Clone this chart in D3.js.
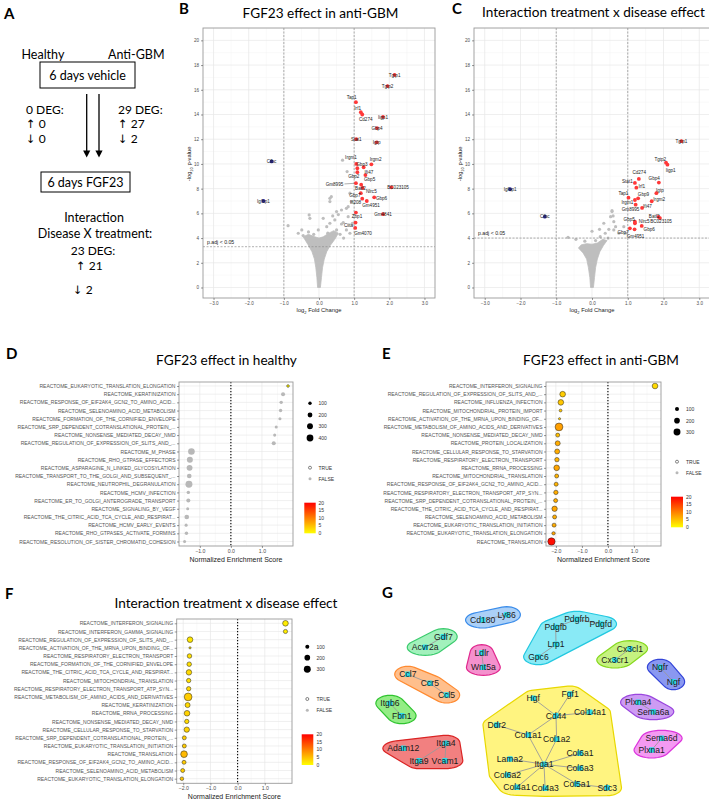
<!DOCTYPE html>
<html><head><meta charset="utf-8">
<script src="https://cdn.jsdelivr.net/npm/d3@7"></script>
<style>body{margin:0;background:#fff}svg{display:block}</style>
</head><body>
<script>
// ---------------- DATA ----------------
const volcanoXTicks = [-3,-2,-1,0,1,2,3];
const volcanoYTicks = [0,2,4,6,8,10,12,14,16,18,20];

// Panel B: [gene, log2FC, -log10p, labelX, labelY]
const bUp = [
 ["Tgtp1",2.15,17.2,2.15,17.2],["Tgtp2",1.95,16.3,1.95,16.3],["Tap1",1.05,15.0,0.93,15.37],
 ["Irf1",1.19,14.18,1.10,14.5],["Cd274",1.23,14.0,1.33,13.6],["Iigp1",1.82,13.8,1.82,13.8],
 ["Gbp4",1.65,12.9,1.65,12.9],["Stat1",1.06,12.0,1.06,12.0],["Igtp",1.64,11.75,1.64,11.75],
 ["Irgm1",1.06,10.0,0.91,10.5],["Irgm2",1.49,9.97,1.61,10.35],["Gbp3",1.27,9.73,1.22,9.97],
 ["Ifi47",1.09,9.65,1.42,9.35],["Gbp2",1.09,9.33,0.99,8.97],["Gbp5",1.32,9.1,1.44,8.76],
 ["Gm8995",1.05,8.44,0.44,8.38],["Batf2",1.2,8.32,1.18,8.03],["Nlrc5",1.24,8.06,1.49,7.81],
 ["BC023105",2.06,8.11,2.25,8.08],["Gbp7",1.19,7.63,1.02,7.49],["Gbp6",1.57,7.3,1.78,7.19],
 ["Ifi208",1.23,7.19,1.04,6.87],["Gm4951",1.36,7.0,1.48,6.62],["Gm4841",1.82,5.93,1.82,5.93],
 ["Zbp1",1.05,6.06,1.08,5.73],["Ciita",1.04,5.25,0.84,5.03],["Gm4070",1.03,4.82,1.25,4.36]
];
const bDown = [["Cfbc",-1.35,10.2,-1.35,10.2],["Igfbp1",-1.58,7.0,-1.58,7.0]];
const bGray = [[-0.88,5.0],[0.67,10.3],[0.8,9.38],[0.31,7.22],[0.35,7.35],[0.31,6.95],[0.5,6.14],
 [0.39,5.79],[-0.28,5.87],[-0.26,5.6],[0.45,5.47],[0.64,5.14],[0.31,5.2],[0.78,4.66],[0.88,4.39],
 [-0.02,4.66],[-0.49,4.66],[-0.59,4.39],[0.12,5.6],[0.83,6.54],[0.64,6.27],[0.88,7.63],[0.92,6.95],
 [0.78,6.41],[0.83,5.73],[0.69,5.25],[0.22,4.92],[0.5,4.66],[-0.45,4.2],[0.6,4.3],[0.7,4.0],
 [0.4,4.2],[-0.3,4.5],[0.55,5.9],[0.95,5.2],[0.25,4.4],[-0.15,4.3],[0.35,3.9]];
const bCloud = [[-0.04,0],[0.04,0],[0.07,0.8],[0.1,1.6],[0.15,2.3],[0.22,2.9],[0.32,3.4],[0.45,3.9],
 [0.55,4.4],[0.42,4.6],[0.28,4.4],[0.12,4.1],[0,4.0],[-0.12,4.1],[-0.3,4.3],[-0.45,4.1],[-0.32,3.5],
 [-0.2,2.9],[-0.13,2.3],[-0.09,1.6],[-0.06,0.8]];
const bThreshold = 3.3;

// Panel C
const cUp = [
 ["Tgtp1",2.50,11.84,2.50,11.84],["Tgtp2",2.07,10.1,1.91,10.38],["Iigp1",2.11,9.94,2.2,9.51],
 ["Cd274",1.31,8.79,1.32,9.33],["Stat1",1.2,8.46,0.99,8.62],["Irf1",1.24,8.08,1.39,8.22],
 ["Gbp4",1.87,8.49,1.74,8.79],["Igtp",1.8,7.63,1.9,7.89],["Tap1",1.02,7.27,0.88,7.6],
 ["Gbp9",1.29,7.22,1.44,7.57],["Irgm1",1.2,7.08,0.99,6.9],["Irgm2",1.67,6.98,1.88,7.14],
 ["Gm8995",1.22,6.7,1.08,6.33],["Ifi47",1.4,6.44,1.55,6.54],["Batf2",1.86,5.72,1.74,5.79],
 ["BC023105",1.9,5.62,1.93,5.33],["Gbp5",1.2,5.33,1.04,5.55],["Nlrc5",1.2,5.2,1.46,5.33],
 ["Gbp6",1.39,4.98,1.6,4.71],["Gbp7",1.06,4.79,0.87,4.44],["Gm4951",1.19,4.71,1.22,4.11]
];
const cDown = [["Igfbp1",-2.29,7.95,-2.29,7.95],["Cfbc",-1.32,5.73,-1.32,5.73]];
const cGray = [[-0.67,4.06],[0.0,4.55],[0.56,6.14],[0.59,5.79],[0.61,5.33],[0.47,4.71],[0.37,4.39],
 [0.23,4.11],[0.66,4.92],[0.56,6.22],[0.52,5.73],[0.33,5.2],[0.21,4.71],[0.89,4.92],[0.61,4.66],
 [0.75,4.39],[0.94,4.39],[-0.45,3.9],[0.45,4.0],[0.1,3.8],[-0.2,3.75]];
const cCloud = [[-0.04,0],[0.04,0],[0.07,0.8],[0.1,1.6],[0.15,2.3],[0.22,2.9],[0.32,3.4],[0.42,3.8],
 [0.3,3.9],[0.15,3.6],[0,3.5],[-0.15,3.55],[-0.3,3.45],[-0.38,3.2],[-0.25,2.8],[-0.15,2.3],
 [-0.1,1.6],[-0.06,0.8]];
const cThreshold = 4.0;

// Panel D
const dPaths = ["REACTOME_EUKARYOTIC_TRANSLATION_ELONGATION","REACTOME_KERATINIZATION",
 "REACTOME_RESPONSE_OF_EIF2AK4_GCN2_TO_AMINO_ACID...","REACTOME_SELENOAMINO_ACID_METABOLISM",
 "REACTOME_FORMATION_OF_THE_CORNIFIED_ENVELOPE","REACTOME_SRP_DEPENDENT_COTRANSLATIONAL_PROTEIN_...",
 "REACTOME_NONSENSE_MEDIATED_DECAY_NMD","REACTOME_REGULATION_OF_EXPRESSION_OF_SLITS_AND_...",
 "REACTOME_M_PHASE","REACTOME_RHO_GTPASE_EFFECTORS","REACTOME_ASPARAGINE_N_LINKED_GLYCOSYLATION",
 "REACTOME_TRANSPORT_TO_THE_GOLGI_AND_SUBSEQUENT_...","REACTOME_NEUTROPHIL_DEGRANULATION",
 "REACTOME_HCMV_INFECTION","REACTOME_ER_TO_GOLGI_ANTEROGRADE_TRANSPORT","REACTOME_SIGNALING_BY_VEGF",
 "REACTOME_THE_CITRIC_ACID_TCA_CYCLE_AND_RESPIRAT...","REACTOME_HCMV_EARLY_EVENTS",
 "REACTOME_RHO_GTPASES_ACTIVATE_FORMINS","REACTOME_RESOLUTION_OF_SISTER_CHROMATID_COHESION"];
const dNES = [1.84,1.68,1.62,1.6,1.58,1.46,1.41,1.38,-1.27,-1.32,-1.33,-1.34,-1.35,-1.37,-1.37,-1.39,-1.42,-1.44,-1.43,-1.49];
const dSize = [60,140,100,100,80,80,80,140,380,310,300,185,420,100,140,80,185,80,100,80];
const dLogP = [1,0,0,0,0,0,0,0,0,0,0,0,0,0,0,0,0,0,0,0];
const dSig = [true,false,false,false,false,false,false,false,false,false,false,false,false,false,false,false,false,false,false,false];

// Panel E
const ePaths = ["REACTOME_INTERFERON_SIGNALING","REACTOME_REGULATION_OF_EXPRESSION_OF_SLITS_AND_...",
 "REACTOME_INFLUENZA_INFECTION","REACTOME_MITOCHONDRIAL_PROTEIN_IMPORT",
 "REACTOME_ACTIVATION_OF_THE_MRNA_UPON_BINDING_OF...","REACTOME_METABOLISM_OF_AMINO_ACIDS_AND_DERIVATIVES",
 "REACTOME_NONSENSE_MEDIATED_DECAY_NMD","REACTOME_PROTEIN_LOCALIZATION","REACTOME_CELLULAR_RESPONSE_TO_STARVATION",
 "REACTOME_RESPIRATORY_ELECTRON_TRANSPORT","REACTOME_RRNA_PROCESSING","REACTOME_MITOCHONDRIAL_TRANSLATION",
 "REACTOME_RESPONSE_OF_EIF2AK4_GCN2_TO_AMINO_ACID...","REACTOME_RESPIRATORY_ELECTRON_TRANSPORT_ATP_SYN...",
 "REACTOME_SRP_DEPENDENT_COTRANSLATIONAL_PROTEIN_...","REACTOME_THE_CITRIC_ACID_TCA_CYCLE_AND_RESPIRAT...",
 "REACTOME_SELENOAMINO_ACID_METABOLISM","REACTOME_EUKARYOTIC_TRANSLATION_INITIATION",
 "REACTOME_EUKARYOTIC_TRANSLATION_ELONGATION","REACTOME_TRANSLATION"];
const eNES = [1.81,-1.74,-1.81,-1.82,-1.86,-1.88,-1.93,-1.93,-1.95,-1.96,-1.97,-1.97,-1.99,-2.0,-2.01,-2.05,-2.05,-2.07,-2.09,-2.17];
const eSize = [200,200,200,50,30,380,100,156,156,120,200,100,100,120,100,180,100,100,70,340];
const eLogP = [3,4,4.5,4.5,4,7.5,5,6.5,6.5,6,7,6,6,6.5,6.5,7,6.5,6.5,7,19];
const eSig = ePaths.map(() => true);

// Panel F
const fPaths = ["REACTOME_INTERFERON_SIGNALING","REACTOME_INTERFERON_GAMMA_SIGNALING",
 "REACTOME_REGULATION_OF_EXPRESSION_OF_SLITS_AND_...","REACTOME_ACTIVATION_OF_THE_MRNA_UPON_BINDING_OF...",
 "REACTOME_RESPIRATORY_ELECTRON_TRANSPORT","REACTOME_FORMATION_OF_THE_CORNIFIED_ENVELOPE",
 "REACTOME_THE_CITRIC_ACID_TCA_CYCLE_AND_RESPIRAT...","REACTOME_MITOCHONDRIAL_TRANSLATION",
 "REACTOME_RESPIRATORY_ELECTRON_TRANSPORT_ATP_SYN...","REACTOME_METABOLISM_OF_AMINO_ACIDS_AND_DERIVATIVES",
 "REACTOME_KERATINIZATION","REACTOME_RRNA_PROCESSING","REACTOME_NONSENSE_MEDIATED_DECAY_NMD",
 "REACTOME_CELLULAR_RESPONSE_TO_STARVATION","REACTOME_SRP_DEPENDENT_COTRANSLATIONAL_PROTEIN_...",
 "REACTOME_EUKARYOTIC_TRANSLATION_INITIATION","REACTOME_TRANSLATION",
 "REACTOME_RESPONSE_OF_EIF2AK4_GCN2_TO_AMINO_ACID...","REACTOME_SELENOAMINO_ACID_METABOLISM",
 "REACTOME_EUKARYOTIC_TRANSLATION_ELONGATION"];
const fNES = [1.76,1.76,-1.75,-1.75,-1.77,-1.78,-1.79,-1.8,-1.8,-1.82,-1.84,-1.86,-1.87,-1.87,-1.96,-1.96,-1.97,-1.97,-2.02,-2.05];
const fSize = [200,110,200,30,130,130,190,120,120,380,160,200,120,180,100,100,280,100,100,80];
const fLogP = [1.5,1.5,2,2,2.5,2.5,3,2.5,3,4,3,3.5,3,3.5,4,4,5.5,4,4,4.5];
const fSig = fPaths.map(() => true);

const colorbarTicks = [0,5,10,15,20];

// Panel G network: [gene, layoutX, layoutY, cluster]
const gNodes = [
 ["Cd180",32.1,10.0,0],["Ly86",39.6,7.35,0],
 ["Gdf7",19.8,18.35,1],["Acvr2a",14.1,23.65,1],
 ["Ldlr",31.8,26.35,2],["Wnt5a",32.3,33.65,2],
 ["Pdgfb",54.9,13.65,3],["Pdgfrb",61.5,9.65,3],["Pdgfd",69.0,12.0,3],["Lrp1",55.0,22.15,3],["Gpc6",49.5,28.35,3],
 ["Cx3cl1",78.1,24.35,4],["Cx3cr1",73.4,30.0,4],
 ["Ngfr",87.5,33.65,5],["Ngf",91.7,40.85,5],
 ["Ccl7",8.7,37.15,6],["Ccr5",15.6,41.65,6],["Ccl5",20.8,47.5,6],
 ["Itgb6",3.1,51.65,7],["Fbn1",6.8,57.85,7],
 ["Plxna4",80.7,51.15,8],["Sema6a",85.4,55.85,8],
 ["Sema6d",88.0,69.15,9],["Plxna1",84.9,75.0,9],
 ["Adam12",7.3,74.15,10],["Itga4",20.6,71.65,10],["Itga9",12.2,80.35,10],["Vcam1",20.3,80.35,10],
 ["Hgf",47.9,49.15,11],["Fgf1",59.4,47.0,11],["Cd44",55.0,57.85,11],["Col14a1",65.6,56.15,11],
 ["Ddr2",36.5,62.5,11],["Col1a1",46.3,67.5,11],["Col1a2",55.2,69.65,11],["Col6a1",62.5,76.65,11],
 ["Lama2",40.6,79.5,11],["Itga1",51.25,82.15,11],["Col6a3",62.5,84.15,11],["Col6a2",39.8,87.5,11],
 ["Col5a1",61.5,92.0,11],["Col4a1",42.8,93.65,11],["Col4a3",51.6,94.15,11],["Sdc3",71.0,93.85,11]
];
const gEdges = [["Cd180","Ly86"],["Gdf7","Acvr2a"],["Ldlr","Wnt5a"],["Pdgfb","Pdgfrb"],["Pdgfrb","Pdgfd"],
 ["Pdgfb","Lrp1"],["Lrp1","Gpc6"],["Cx3cl1","Cx3cr1"],["Ngfr","Ngf"],["Ccl7","Ccr5"],["Ccr5","Ccl5"],
 ["Itgb6","Fbn1"],["Plxna4","Sema6a"],["Sema6d","Plxna1"],["Itga4","Vcam1"],["Itga4","Itga9"],
 ["Hgf","Cd44"],["Fgf1","Cd44"],["Cd44","Col14a1"],["Cd44","Col1a1"],["Cd44","Col1a2"],["Ddr2","Col1a1"],
 ["Col1a1","Itga1"],["Col1a2","Itga1"],["Itga1","Lama2"],["Itga1","Col6a1"],["Itga1","Col6a3"],
 ["Itga1","Col6a2"],["Itga1","Col4a1"],["Itga1","Col4a3"],["Itga1","Col5a1"],["Col5a1","Sdc3"]];
const gClusterFill = ["#9CC8F6","#92EEB0","#F27EC4","#74E6F4","#BCF06A","#7686EE","#FFB478","#80EA70","#C48AF2","#F288F0","#F06A6A","#FFF26A"];
const gClusterStroke = ["#3A8CEA","#3CCB6E","#E0288E","#22C8E0","#86D81E","#3344D8","#FF8A30","#30C430","#9A46DE","#DC34DC","#DA2424","#E8D800"];

// ---------------- DRAW ----------------
const AR = "'Liberation Sans', Arial, sans-serif";
const LT = "Lato, 'Open Sans', sans-serif";
const DJ = "'DejaVu Sans', sans-serif";
const svg = d3.select('body').append('svg').attr('width',709).attr('height',801).style('font-family',AR);
svg.append('rect').attr('width',709).attr('height',801).attr('fill','#fff');
const heat = d3.scaleLinear().domain([0,20]).range(['#FFFF00','#FF0000']);
const defs = svg.append('defs');

function txt(g,x,y,s,size,opt={}){
  return g.append('text').attr('x',x).attr('y',y).text(s)
   .attr('font-size',size).attr('font-family',opt.font||LT)
   .attr('font-weight',opt.bold?'bold':null).attr('text-anchor',opt.anchor||'start')
   .attr('fill',opt.fill||'#000');
}
function block(g,lines,size){
  const t = g.append('text').attr('font-size',size).attr('font-family',LT).attr('fill','#000');
  lines.forEach(l=>{
    if (l.arrow){
      t.append('tspan').attr('x',l.x).attr('y',l.y).attr('font-family',DJ).attr('font-size',size-0.5).text(l.arrow);
      t.append('tspan').text('\u00a0'+l.text);
    } else {
      t.append('tspan').attr('x',l.x).attr('y',l.y).attr('text-anchor',l.anchor||'start').text(l.text);
    }
  });
  return t;
}

// panel letters
[["A",4,18.5],["B",179,13.5],["C",452,14],["D",6,359],["E",382,359],["F",5,599],["G",382,597.5]]
 .forEach(([l,x,y])=>txt(svg,x,y,l,15,{bold:true}));

// ---- Panel A ----
const pa = svg.append('g');
const AF = 12.5, BF = 12;
txt(pa,21.5,58.5,"Healthy",AF);
txt(pa,108,58.5,"Anti-GBM",AF);
pa.append('rect').attr('x',40).attr('y',62).attr('width',95).attr('height',26).attr('fill','none').attr('stroke','#000').attr('stroke-width',1);
txt(pa,87.5,79.5,"6 days vehicle",AF,{anchor:'middle'});
pa.append('rect').attr('x',41).attr('y',172).attr('width',89).attr('height',20).attr('fill','none').attr('stroke','#000').attr('stroke-width',1);
txt(pa,85.5,186.5,"6 days FGF23",AF,{anchor:'middle'});
[86.7,99].forEach(ax=>{
  pa.append('line').attr('x1',ax).attr('x2',ax).attr('y1',94).attr('y2',152).attr('stroke','#000').attr('stroke-width',1.3);
  pa.append('path').attr('d',`M${ax-3.6},150.5L${ax+3.6},150.5L${ax},157.5Z`).attr('fill','#000');
});
txt(pa,26,113.5,"0 DEG:",BF);
block(pa,[{x:26,y:128,arrow:"\u2191",text:"0"}],BF);
block(pa,[{x:26,y:143,arrow:"\u2193",text:"0"}],BF);
txt(pa,118,113.5,"29 DEG:",BF);
block(pa,[{x:118,y:128,arrow:"\u2191",text:"27"}],BF);
block(pa,[{x:118,y:143,arrow:"\u2193",text:"2"}],BF);
txt(pa,94,221.5,"Interaction",AF,{anchor:'middle'});
txt(pa,95,238,"Disease X treatment:",AF,{anchor:'middle'});
txt(pa,93,254.5,"23 DEG:",BF,{anchor:'middle'});
block(pa,[{x:76,y:269.5,arrow:"\u2191",text:"21"}],BF);
block(pa,[{x:73,y:293.5,arrow:"\u2193",text:"2"}],BF);

// ---- Volcano ----
function styleAxis(a, size){
  a.select('.domain').remove();
  a.selectAll('line').attr('stroke','#333').attr('stroke-width',0.5);
  a.selectAll('text').attr('font-size',size).attr('fill','#4D4D4D').attr('font-family',AR);
}
function drawVolcano(o){
  const g = svg.append('g');
  const x = d3.scaleLinear().domain([-3.3,3.3]).range([o.x0,o.x1]);
  const y = d3.scaleLinear().domain([-0.85,21]).range([o.y1,o.y0]);
  const cid = 'clip'+o.id;
  defs.append('clipPath').attr('id',cid).append('rect').attr('x',o.x0).attr('y',o.y0).attr('width',o.x1-o.x0).attr('height',o.y1-o.y0);
  const inner = g.append('g').attr('clip-path',`url(#${cid})`);
  inner.append('rect').attr('x',o.x0).attr('y',o.y0).attr('width',o.x1-o.x0).attr('height',o.y1-o.y0).attr('fill','#fff');
  const minorX = volcanoXTicks.map(t=>t+0.5).concat([volcanoXTicks[0]-0.5]);
  const minorY = volcanoYTicks.map(t=>t+1);
  inner.selectAll('.mx').data(minorX).join('line').attr('x1',x).attr('x2',x).attr('y1',o.y0).attr('y2',o.y1).attr('stroke','#F2F2F2').attr('stroke-width',0.5);
  inner.selectAll('.my').data(minorY).join('line').attr('y1',y).attr('y2',y).attr('x1',o.x0).attr('x2',o.x1).attr('stroke','#F2F2F2').attr('stroke-width',0.5);
  inner.selectAll('.gx').data(volcanoXTicks).join('line').attr('x1',x).attr('x2',x).attr('y1',o.y0).attr('y2',o.y1).attr('stroke','#E6E6E6').attr('stroke-width',0.7);
  inner.selectAll('.gy').data(volcanoYTicks).join('line').attr('y1',y).attr('y2',y).attr('x1',o.x0).attr('x2',o.x1).attr('stroke','#E6E6E6').attr('stroke-width',0.7);
  inner.append('path').datum(o.cloud).attr('d',d3.line().x(d=>x(d[0])).y(d=>y(d[1])).curve(d3.curveLinearClosed))
    .attr('fill','#BEBEBE').attr('stroke','#BEBEBE').attr('stroke-width',0.8).attr('stroke-linejoin','round');
  inner.selectAll('.gp').data(o.gray).join('circle').attr('cx',d=>x(d[0])).attr('cy',d=>y(d[1])).attr('r',1.6).attr('fill','#BEBEBE');
  [-1,1].forEach(v=>inner.append('line').attr('x1',x(v)).attr('x2',x(v)).attr('y1',o.y0).attr('y2',o.y1)
     .attr('stroke','#8C8C8C').attr('stroke-width',0.7).attr('stroke-dasharray','2,1.5'));
  inner.append('line').attr('x1',o.x0).attr('x2',o.x1).attr('y1',y(o.thr)).attr('y2',y(o.thr))
     .attr('stroke','#8C8C8C').attr('stroke-width',0.7).attr('stroke-dasharray','2,1.5');
  txt(inner,o.x0+4,y(o.thr)-3,"p.adj < 0.05",5.2,{font:AR,fill:'#222'});
  const all = o.up.map(d=>({d,c:'#FF3838'})).concat(o.down.map(d=>({d,c:'#28289A'})));
  all.forEach(({d})=>{
    const px=x(d[1]),py=y(d[2]),lx=x(d[3]),ly=y(d[4]);
    if (Math.hypot(px-lx,py-ly)>14) inner.append('line').attr('x1',px).attr('y1',py).attr('x2',lx+(lx<px?10:-10)).attr('y2',ly).attr('stroke','#333').attr('stroke-width',0.4);
  });
  inner.selectAll('.sp').data(all).join('circle').attr('cx',e=>x(e.d[1])).attr('cy',e=>y(e.d[2])).attr('r',1.9).attr('fill',e=>e.c);
  inner.selectAll('.sl').data(all).join('text').attr('x',e=>x(e.d[3])).attr('y',e=>y(e.d[4])+1.6)
    .attr('text-anchor','middle').attr('font-size',4.6).attr('fill','#1A1A1A').text(e=>e.d[0]);
  g.append('rect').attr('x',o.x0).attr('y',o.y0).attr('width',o.x1-o.x0).attr('height',o.y1-o.y0).attr('fill','none').attr('stroke','#9A9A9A').attr('stroke-width',0.9);
  const ax = g.append('g').attr('transform',`translate(0,${o.y1})`).call(d3.axisBottom(x).tickValues(volcanoXTicks).tickSize(2).tickPadding(2));
  styleAxis(ax,4.6);
  const ay = g.append('g').attr('transform',`translate(${o.x0},0)`).call(d3.axisLeft(y).tickValues(volcanoYTicks).tickSize(2).tickPadding(2));
  styleAxis(ay,4.6);
  const xl = g.append('text').attr('x',x(0)).attr('y',o.y1+14).attr('text-anchor','middle').attr('font-size',5.8).attr('fill','#222');
  xl.append('tspan').text('log');
  xl.append('tspan').text('2').attr('font-size',4).attr('dy',1.5);
  xl.append('tspan').text(' Fold Change').attr('dy',-1.5);
  const yl = g.append('text').attr('transform',`translate(${o.x0-12},${y(10)}) rotate(-90)`).attr('text-anchor','middle').attr('font-size',5.8).attr('fill','#222');
  yl.append('tspan').text('-log');
  yl.append('tspan').text('10').attr('font-size',4).attr('dy',1.5);
  yl.append('tspan').text(' p-value').attr('dy',-1.5);
  txt(svg,o.titleX,o.titleY,o.title,13.6,{anchor:'middle'});
}
drawVolcano({id:'B',x0:203,x1:435,y0:28,y1:298,up:bUp,down:bDown,gray:bGray,cloud:bCloud,thr:bThreshold,
  title:"FGF23 effect in anti-GBM",titleX:320.5,titleY:17.5});
drawVolcano({id:'C',x0:474,x1:710,y0:28,y1:298,up:cUp,down:cDown,gray:cGray,cloud:cCloud,thr:cThreshold,
  title:"Interaction treatment  x disease effect",titleX:593.5,titleY:16.5});

// ---- Dot plots ----
function drawDot(o){
  const g = svg.append('g');
  const x = d3.scaleLinear().domain(o.xDomain).range([o.x0,o.x1]);
  const y = d3.scalePoint().domain(o.paths).range([o.rowTop,o.rowBottom]);
  const r = d3.scaleSqrt().domain([0,100]).range([0,o.k*10]);
  g.append('rect').attr('x',o.x0).attr('y',o.y0).attr('width',o.x1-o.x0).attr('height',o.y1-o.y0).attr('fill','#fff');
  const minor = o.xTicks.map(t=>t+0.5).concat([o.xTicks[0]-0.5]).filter(v=>v>o.xDomain[0]&&v<o.xDomain[1]);
  g.selectAll('.mn').data(minor).join('line').attr('x1',x).attr('x2',x).attr('y1',o.y0).attr('y2',o.y1).attr('stroke','#F2F2F2').attr('stroke-width',0.5);
  g.selectAll('.mj').data(o.xTicks).join('line').attr('x1',x).attr('x2',x).attr('y1',o.y0).attr('y2',o.y1).attr('stroke','#E6E6E6').attr('stroke-width',0.7);
  g.selectAll('.rw').data(o.paths).join('line').attr('y1',y).attr('y2',y).attr('x1',o.x0).attr('x2',o.x1).attr('stroke','#E6E6E6').attr('stroke-width',0.6);
  g.append('line').attr('x1',x(0)).attr('x2',x(0)).attr('y1',o.y0).attr('y2',o.y1).attr('stroke','#000').attr('stroke-width',1.1).attr('stroke-dasharray','1.2,1.8');
  const idx = d3.range(o.paths.length).sort((a,b)=>o.size[b]-o.size[a]);
  g.selectAll('.pt').data(idx).join('circle').attr('cx',i=>x(o.nes[i])).attr('cy',i=>y(o.paths[i])).attr('r',i=>r(o.size[i]))
    .attr('fill',i=>o.sig[i]?heat(o.logp[i]):'#B8B8B8').attr('stroke',i=>o.sig[i]?'#222':'none').attr('stroke-width',0.5);
  g.append('rect').attr('x',o.x0).attr('y',o.y0).attr('width',o.x1-o.x0).attr('height',o.y1-o.y0).attr('fill','none').attr('stroke','#9A9A9A').attr('stroke-width',0.9);
  const ax = g.append('g').attr('transform',`translate(0,${o.y1})`).call(d3.axisBottom(x).tickValues(o.xTicks).tickSize(2).tickPadding(1.5));
  styleAxis(ax,5.2);
  const ay = g.append('g').attr('transform',`translate(${o.x0},0)`).call(d3.axisLeft(y).tickSize(2).tickPadding(1.5));
  styleAxis(ay,5);
  ay.selectAll('text').attr('fill','#555');
  g.append('text').attr('x',(o.x0+o.x1)/2).attr('y',o.y1+16).attr('text-anchor','middle').attr('font-size',7).attr('fill','#222').text('Normalized Enrichment Score');
  txt(svg,o.titleX,o.titleY,o.title,13.6,{anchor:'middle'});
  const L = o.leg;
  L.sizes.forEach((s,i)=>{
    g.append('circle').attr('cx',L.x).attr('cy',L.sizeY[i]).attr('r',r(s)).attr('fill','#000');
    txt(g,L.lx,L.sizeY[i]+1.8,String(s),5,{font:AR,fill:'#333'});
  });
  g.append('circle').attr('cx',L.x).attr('cy',L.trueY).attr('r',1.5).attr('fill','none').attr('stroke','#333').attr('stroke-width',0.6);
  txt(g,L.lx,L.trueY+1.8,'TRUE',5,{font:AR,fill:'#333'});
  g.append('circle').attr('cx',L.x).attr('cy',L.falseY).attr('r',1.5).attr('fill','#B8B8B8');
  txt(g,L.lx,L.falseY+1.8,'FALSE',5,{font:AR,fill:'#333'});
  const gid = 'grad'+o.id;
  const gr = defs.append('linearGradient').attr('id',gid).attr('x1',0).attr('y1',1).attr('x2',0).attr('y2',0);
  [0,0.25,0.5,0.75,1].forEach(t=>gr.append('stop').attr('offset',t).attr('stop-color',heat(t*20)));
  g.append('rect').attr('x',L.bx0).attr('y',L.by0).attr('width',L.bx1-L.bx0).attr('height',L.by1-L.by0).attr('fill',`url(#${gid})`);
  const cb = d3.scaleLinear().domain([0,20]).range([L.by1,L.by0]);
  colorbarTicks.forEach(t=>txt(g,L.lx,cb(t)+1.8,String(t),5,{font:AR,fill:'#333'}));
}
drawDot({id:'D',paths:dPaths,nes:dNES,size:dSize,logp:dLogP,sig:dSig,xDomain:[-1.67,2.0],xTicks:[-1,0,1],
  x0:179,x1:293,y0:382,y1:546,rowTop:386,rowBottom:541.5,k:0.17,title:"FGF23 effect in healthy",titleX:226.5,titleY:365,
  leg:{x:310,lx:318.5,sizes:[100,200,300,400],sizeY:[403.3,415,426.3,438],trueY:467.7,falseY:478.7,bx0:304.3,bx1:315.7,by0:502.7,by1:533.3}});
drawDot({id:'E',paths:ePaths,nes:eNES,size:eSize,logp:eLogP,sig:eSig,xDomain:[-2.38,2.04],xTicks:[-2,-1,0,1],
  x0:546,x1:661,y0:382,y1:546,rowTop:386,rowBottom:541.5,k:0.2,title:"FGF23 effect in anti-GBM",titleX:601,titleY:365,
  leg:{x:677,lx:686,sizes:[100,200,300],sizeY:[409,420.7,432],trueY:461.7,falseY:472.7,bx0:671,bx1:683,by0:496.7,by1:527.3}});
drawDot({id:'F',paths:fPaths,nes:fNES,size:fSize,logp:fLogP,sig:fSig,xDomain:[-2.24,2.0],xTicks:[-2,-1,0,1],
  x0:176.7,x1:292,y0:619,y1:783.3,rowTop:623.3,rowBottom:778.7,k:0.2,title:"Interaction treatment x disease effect",titleX:226,titleY:608,
  leg:{x:307.3,lx:316.5,sizes:[100,200,300],sizeY:[646.7,657.7,669.3],trueY:699,falseY:710.3,bx0:301.7,bx1:313.3,by0:734.3,by1:765}});

// ---- Panel G network ----
const gx = d3.scaleLinear().domain([0,100]).range([380,700]);
const gy = d3.scaleLinear().domain([0,100]).range([600,800]);
const gHull = svg.append('g'), gEdge = svg.append('g'), gNode = svg.append('g'), gLab = svg.append('g');
const pos = {};
gNodes.forEach(n=>pos[n[0]]={x:gx(n[1]),y:gy(n[2]),c:n[3]});
gLab.selectAll('text').data(gNodes).join('text').attr('x',n=>gx(n[1])).attr('y',n=>gy(n[2])+3)
  .attr('text-anchor','middle').attr('font-size',8.6).attr('fill','#1A1A1A').text(n=>n[0])
  .each(function(n){pos[n[0]].w=this.getComputedTextLength();});
gClusterFill.forEach((fill,ci)=>{
  const pts=[];
  gNodes.filter(n=>n[3]===ci).forEach(n=>{
    const p=pos[n[0]], rx=p.w/2+4.5, ry=8;
    for(let a=0;a<36;a++){const t=a/36*2*Math.PI;pts.push([p.x+Math.cos(t)*rx,p.y+Math.sin(t)*ry]);}
  });
  const hull=d3.polygonHull(pts);
  gHull.append('path').attr('d',d3.line().curve(d3.curveLinearClosed)(hull))
    .attr('fill',fill).attr('fill-opacity',0.85).attr('stroke',gClusterStroke[ci]).attr('stroke-width',1.2);
});
gEdge.selectAll('line').data(gEdges).join('line').attr('x1',e=>pos[e[0]].x).attr('y1',e=>pos[e[0]].y)
  .attr('x2',e=>pos[e[1]].x).attr('y2',e=>pos[e[1]].y).attr('stroke','#9A9A9A').attr('stroke-width',0.9);
gNode.selectAll('rect').data(gNodes).join('rect').attr('x',n=>gx(n[1])-2.8).attr('y',n=>gy(n[2])-2.8)
  .attr('width',5.6).attr('height',5.6).attr('rx',1.2).attr('fill','#2EDDEA');
</script>
</body></html>
